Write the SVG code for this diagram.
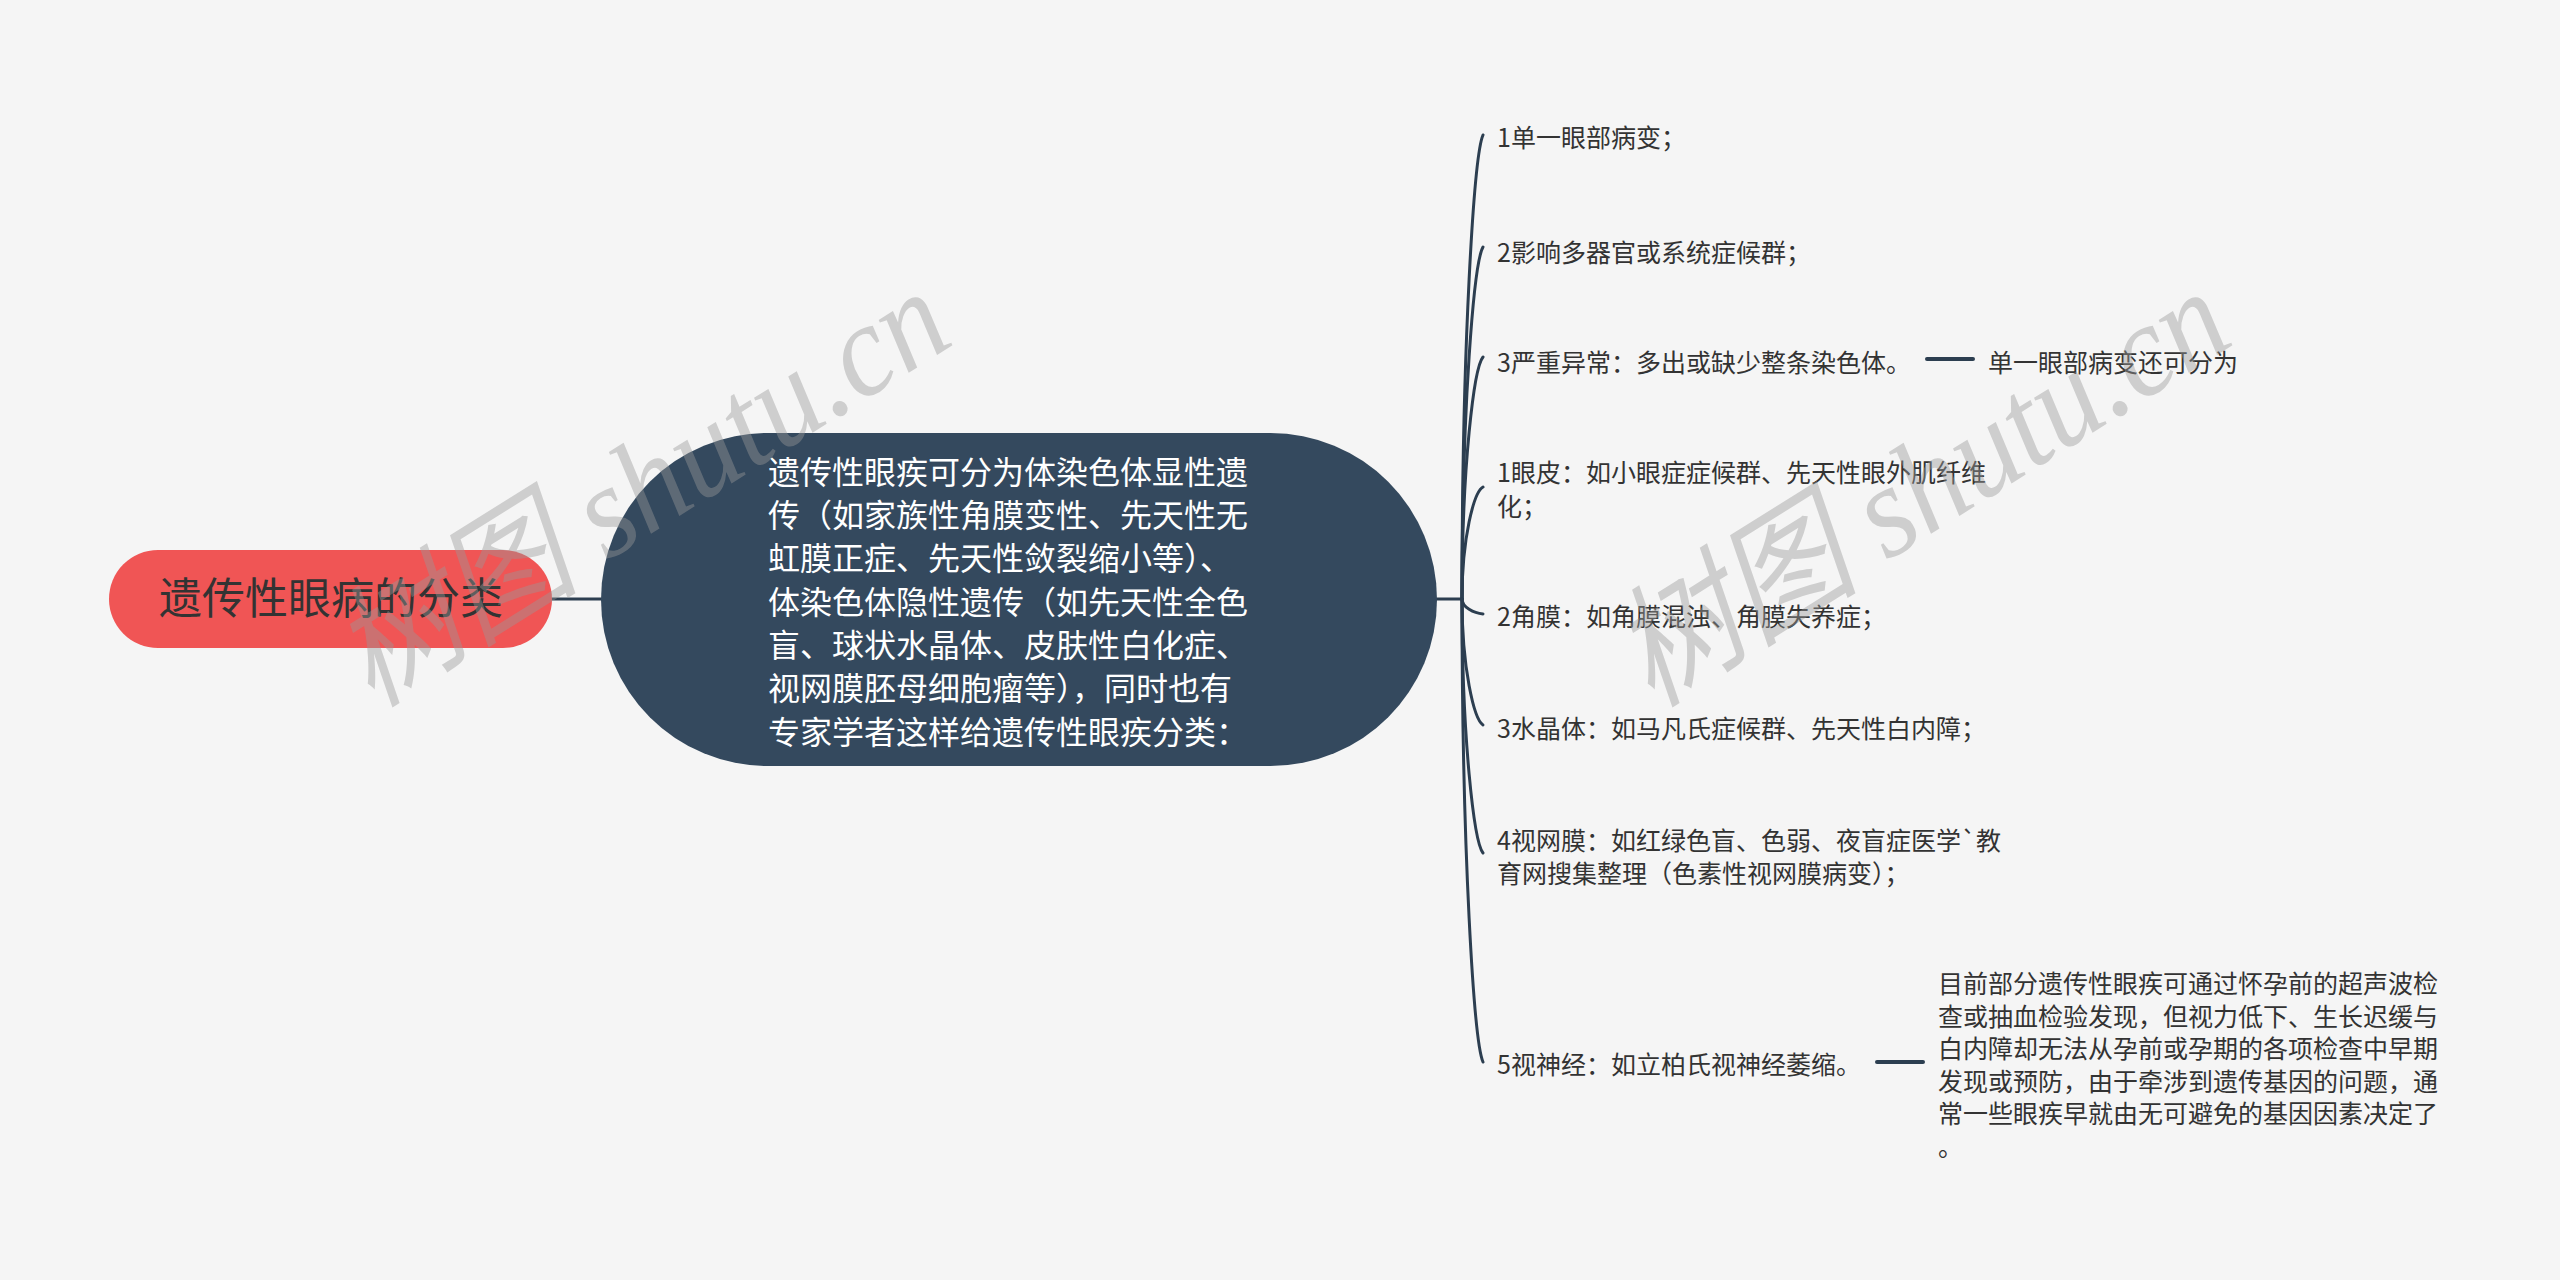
<svg xmlns="http://www.w3.org/2000/svg" width="2560" height="1280" viewBox="0 0 2560 1280">
<style>
.bg{fill:#f5f5f5}
.t{font-family:"Noto Sans CJK SC","Noto Sans",sans-serif}
.child{font-size:25px;fill:#333}
.main{font-size:32px;fill:#ffffff}
.root{font-size:43px;fill:#333}
.line{fill:none;stroke:#2c3e50;stroke-width:3;stroke-linecap:round}
.wm{font-family:"Liberation Serif","Noto Sans CJK SC",serif;font-style:italic;font-size:132px;fill:#999;opacity:0.42}
</style>
<rect class="bg" x="0" y="0" width="2560" height="1280"/>
<g id="connectors">
<path class="line" d="M552,599 H601"/>
<path class="line" d="M1437,599 H1462"/>
<path class="line" d="M1462,599 C1462,343.8 1474,155.9 1483,135"/>
<path class="line" d="M1462,599 C1462,405.4 1474,262.8 1483,247"/>
<path class="line" d="M1462,599 C1462,465.9 1474,367.9 1483,357"/>
<path class="line" d="M1462,599 C1462,537.4 1474,492 1483,487"/>
<path class="line" d="M1462,599 C1462,607.3 1474,613.3 1483,614"/>
<path class="line" d="M1462,599 C1462,668.3 1474,719.3 1483,725"/>
<path class="line" d="M1462,599 C1462,738.7 1474,841.6 1483,853"/>
<path class="line" d="M1462,599 C1462,853.7 1474,1041.2 1483,1062"/>
<path class="line" style="stroke-width:4" d="M1927,359 H1973"/>
<path class="line" style="stroke-width:4" d="M1877,1062 H1923"/>
</g>
<g id="root">
<rect x="109" y="550" width="443" height="98" rx="49" fill="#f05555"/>
<text class="t root" x="331" y="614" text-anchor="middle">遗传性眼病的分类</text>
</g>
<g id="main">
<rect x="601" y="433" width="836" height="333" rx="166.5" fill="#34495e"/>
<text class="t main" x="768" y="484">遗传性眼疾可分为体染色体显性遗</text>
<text class="t main" x="768" y="527">传（如家族性角膜变性、先天性无</text>
<text class="t main" x="768" y="570">虹膜正症、先天性敛裂缩小等）、</text>
<text class="t main" x="768" y="614">体染色体隐性遗传（如先天性全色</text>
<text class="t main" x="768" y="657">盲、球状水晶体、皮肤性白化症、</text>
<text class="t main" x="768" y="700">视网膜胚母细胞瘤等），同时也有</text>
<text class="t main" x="768" y="744">专家学者这样给遗传性眼疾分类：</text>
</g>
<g id="c1"><text class="t child" x="1497" y="147">1单一眼部病变；</text></g>
<g id="c2"><text class="t child" x="1497" y="262">2影响多器官或系统症候群；</text></g>
<g id="c3"><text class="t child" x="1497" y="372">3严重异常：多出或缺少整条染色体。</text></g>
<g id="c3a"><text class="t child" x="1988" y="372">单一眼部病变还可分为</text></g>
<g id="c4">
<text class="t child" x="1497" y="482">1眼皮：如小眼症症候群、先天性眼外肌纤维</text>
<text class="t child" x="1497" y="516">化；</text>
</g>
<g id="c5"><text class="t child" x="1497" y="626">2角膜：如角膜混浊、角膜失养症；</text></g>
<g id="c6"><text class="t child" x="1497" y="738">3水晶体：如马凡氏症候群、先天性白内障；</text></g>
<g id="c7">
<text class="t child" x="1497" y="850">4视网膜：如红绿色盲、色弱、夜盲症医学`教</text>
<text class="t child" x="1497" y="883">育网搜集整理（色素性视网膜病变）；</text>
</g>
<g id="c8"><text class="t child" x="1497" y="1074">5视神经：如立柏氏视神经萎缩。</text></g>
<g id="c8a">
<text class="t child" x="1938" y="993">目前部分遗传性眼疾可通过怀孕前的超声波检</text>
<text class="t child" x="1938" y="1026">查或抽血检验发现，但视力低下、生长迟缓与</text>
<text class="t child" x="1938" y="1058">白内障却无法从孕前或孕期的各项检查中早期</text>
<text class="t child" x="1938" y="1091">发现或预防，由于牵涉到遗传基因的问题，通</text>
<text class="t child" x="1938" y="1123">常一些眼疾早就由无可避免的基因因素决定了</text>
<text class="t child" x="1938" y="1156">。</text>
</g>
<g id="watermarks">
<text class="wm" transform="translate(372,708) rotate(-32)" textLength="690" lengthAdjust="spacingAndGlyphs">树图 shutu.cn</text>
<text class="wm" transform="translate(1652,708) rotate(-32)" textLength="690" lengthAdjust="spacingAndGlyphs">树图 shutu.cn</text>
</g>
</svg>
